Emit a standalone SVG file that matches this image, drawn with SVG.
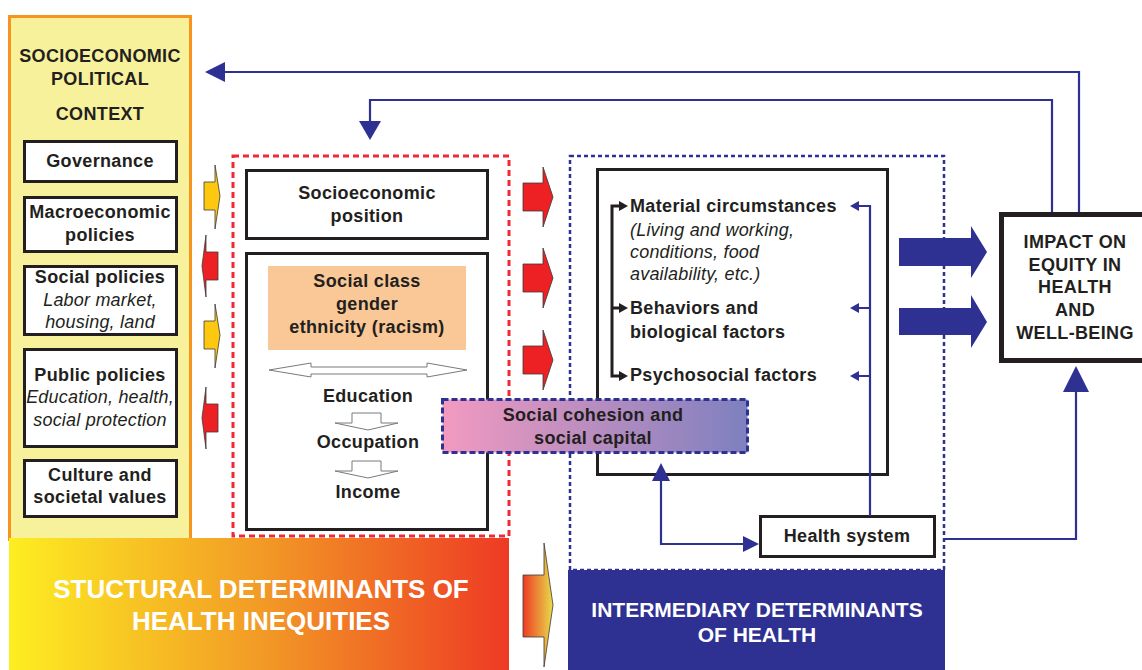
<svg xmlns="http://www.w3.org/2000/svg" width="1142" height="670" viewBox="0 0 1142 670">
  <style>
    .t { font-family: "Liberation Sans", Arial, Helvetica, sans-serif; font-size: 18px; font-weight: bold; fill: #231F20; letter-spacing: 0.35px; text-anchor: middle; }
    .ti { font-family: "Liberation Sans", Arial, Helvetica, sans-serif; font-size: 18px; font-style: italic; fill: #231F20; letter-spacing: 0.2px; text-anchor: middle; }
    .tl { text-anchor: start; }
    .w { fill: #FFFFFF; }
    .box { fill: #FFFFFF; stroke: #231F20; stroke-width: 3; }
    .yarrow { fill: #FDC80F; stroke: #3A3A3A; stroke-width: 0.8; }
    .rarrow { fill: #ED2024; stroke: #3A3A3A; stroke-width: 0.8; }
    .narrow { fill: #2E3192; }
    .nline { fill: none; stroke: #2E3192; stroke-width: 2.2; }
    .outline { fill: #FFFFFF; stroke: #7A7A7A; stroke-width: 1; }
  </style>
  <defs>
    <linearGradient id="gStruct" x1="0" y1="0" x2="1" y2="0">
      <stop offset="0" stop-color="#FDEE21"/>
      <stop offset="0.5" stop-color="#F29B26"/>
      <stop offset="1" stop-color="#EE3A24"/>
    </linearGradient>
    <linearGradient id="gCohesion" x1="0" y1="0" x2="1" y2="0">
      <stop offset="0" stop-color="#F29AC0"/>
      <stop offset="1" stop-color="#7E80BF"/>
    </linearGradient>
    <linearGradient id="gFlow" x1="0" y1="0" x2="1" y2="0">
      <stop offset="0" stop-color="#EE3B24"/>
      <stop offset="1" stop-color="#E8DC4A"/>
    </linearGradient>
  </defs>

  <!-- Socioeconomic and political context column -->
  <g id="context">
    <rect x="9.5" y="16.5" width="181" height="523" fill="#F8F19C" stroke="#F7941D" stroke-width="3"/>
    <text class="t" x="100" y="62">SOCIOECONOMIC</text>
    <text class="t" x="100" y="85">POLITICAL</text>
    <text class="t" x="100" y="120">CONTEXT</text>
  </g>
  <g id="governance">
    <rect class="box" x="24.5" y="141.5" width="152" height="40"/>
    <text class="t" x="100" y="167">Governance</text>
  </g>
  <g id="macroeconomic">
    <rect class="box" x="24.5" y="197.5" width="152" height="54"/>
    <text class="t" x="100" y="218">Macroeconomic</text>
    <text class="t" x="100" y="241">policies</text>
  </g>
  <g id="social-policies">
    <rect class="box" x="24.5" y="266.5" width="152" height="68"/>
    <text class="t" x="100" y="283">Social policies</text>
    <text class="ti" x="100" y="306">Labor market,</text>
    <text class="ti" x="100" y="328">housing, land</text>
  </g>
  <g id="public-policies">
    <rect class="box" x="24.5" y="349.5" width="152" height="97"/>
    <text class="t" x="100" y="381">Public policies</text>
    <text class="ti" x="100" y="403">Education, health,</text>
    <text class="ti" x="100" y="426">social protection</text>
  </g>
  <g id="culture">
    <rect class="box" x="24.5" y="460.5" width="152" height="56"/>
    <text class="t" x="100" y="481">Culture and</text>
    <text class="t" x="100" y="503">societal values</text>
  </g>

  <!-- Structural determinants band -->
  <g id="structural">
    <rect x="9" y="538" width="500" height="132" fill="url(#gStruct)"/>
    <text class="t w" x="261" y="598" style="font-size:26px;letter-spacing:0">STUCTURAL DETERMINANTS OF</text>
    <text class="t w" x="261" y="630" style="font-size:26px;letter-spacing:0">HEALTH INEQUITIES</text>
  </g>

  <!-- Socioeconomic position block -->
  <g id="position-frame">
    <rect x="233" y="156" width="276" height="380" fill="none" stroke="#EE2A35" stroke-width="3" stroke-dasharray="6 4"/>
  </g>
  <g id="socioeconomic-position">
    <rect class="box" x="246.5" y="170.5" width="241" height="68"/>
    <text class="t" x="367" y="199">Socioeconomic</text>
    <text class="t" x="367" y="222">position</text>
  </g>
  <g id="stratifiers">
    <rect class="box" x="246.5" y="253.5" width="241" height="276"/>
    <rect x="268" y="266" width="198" height="84" fill="#F9C896"/>
    <text class="t" x="367" y="287">Social class</text>
    <text class="t" x="367" y="310">gender</text>
    <text class="t" x="367" y="333">ethnicity (racism)</text>
    <polygon class="outline" points="269,370 311,363 311,367 427,367 427,363 467,370 427,377 427,374 311,374 311,377"/>
    <text class="t" x="368" y="402">Education</text>
    <polygon class="outline" points="352,413 381,413 381,423 398,423 368,430 335,423 352,423"/>
    <text class="t" x="368" y="448">Occupation</text>
    <polygon class="outline" points="352,461 381,461 381,471 398,471 368,478 335,471 352,471"/>
    <text class="t" x="368" y="498">Income</text>
  </g>

  <!-- Intermediary determinants block -->
  <g id="intermediary-frame">
    <rect x="570" y="156" width="374" height="414" fill="none" stroke="#2E3192" stroke-width="2.5" stroke-dasharray="4 3"/>
  </g>
  <g id="intermediary">
    <rect x="568" y="570" width="377" height="100" fill="#2E3192"/>
    <text class="t w" x="757" y="617" style="font-size:21px;letter-spacing:0">INTERMEDIARY DETERMINANTS</text>
    <text class="t w" x="757" y="642" style="font-size:21px;letter-spacing:0">OF HEALTH</text>
  </g>
  <g id="circumstances">
    <rect class="box" x="597.5" y="169.5" width="290" height="305"/>
    <text class="t tl" x="630" y="212">Material circumstances</text>
    <text class="ti tl" x="630" y="236">(Living and working,</text>
    <text class="ti tl" x="630" y="258">conditions, food</text>
    <text class="ti tl" x="630" y="280">availability, etc.)</text>
    <text class="t tl" x="630" y="314">Behaviors and</text>
    <text class="t tl" x="630" y="338">biological factors</text>
    <text class="t tl" x="630" y="381">Psychosocial factors</text>
    <path d="M620,206 H612 V376 H620 M612,308 H620" fill="none" stroke="#231F20" stroke-width="3"/>
    <polygon points="619,201 628,206 619,211" fill="#231F20"/>
    <polygon points="619,303 628,308 619,313" fill="#231F20"/>
    <polygon points="619,371 628,376 619,381" fill="#231F20"/>
  </g>
  <g id="social-cohesion">
    <rect x="442.5" y="399.5" width="305" height="53" fill="url(#gCohesion)" stroke="#2E3192" stroke-width="3" stroke-dasharray="6 3"/>
    <text class="t" x="593" y="421">Social cohesion and</text>
    <text class="t" x="593" y="444">social capital</text>
  </g>
  <g id="health-system">
    <rect class="box" x="760.5" y="516.5" width="174" height="40"/>
    <text class="t" x="847" y="542">Health system</text>
  </g>

  <!-- Outcome -->
  <g id="impact">
    <rect x="1001.5" y="214.5" width="160" height="146" fill="#FFFFFF" stroke="#231F20" stroke-width="5"/>
    <text class="t" x="1075" y="248">IMPACT ON</text>
    <text class="t" x="1075" y="271">EQUITY IN</text>
    <text class="t" x="1075" y="293">HEALTH</text>
    <text class="t" x="1075" y="316">AND</text>
    <text class="t" x="1075" y="339">WELL-BEING</text>
  </g>

  <!-- Connectors -->
  <g id="connectors">
    <!-- context <-> position -->
    <polygon class="yarrow" points="204,182 215,182 215,165 220,196 215,229 215,210 204,210"/>
    <polygon class="rarrow" points="218,252 206,252 206,235 202,266 206,297 206,280 218,280"/>
    <polygon class="yarrow" points="204,321 215,321 215,304 220,335 215,368 215,349 204,349"/>
    <polygon class="rarrow" points="218,404 206,404 206,387 202,418 206,449 206,432 218,432"/>

    <!-- position -> intermediary -->
    <polygon class="rarrow" points="523,183 543,183 543,167 553,197 543,227 543,211 523,211"/>
    <polygon class="rarrow" points="523,264 543,264 543,248 553,278 543,308 543,292 523,292"/>
    <polygon class="rarrow" points="523,346 543,346 543,330 553,360 543,390 543,374 523,374"/>
    <polygon points="523,575 544,575 544,543 553,605 544,667 544,637 523,637" fill="url(#gFlow)" stroke="#3A3A3A" stroke-width="0.8"/>

    <!-- intermediary -> impact -->
    <polygon class="narrow" points="899,238 971,238 971,226 987,252 971,278 971,266 899,266"/>
    <polygon class="narrow" points="899,308 971,308 971,295 987,322 971,348 971,335 899,335"/>

    <!-- feedback loops -->
    <path class="nline" d="M1079,212 V72 H224"/>
    <polygon class="narrow" points="205,72 225,62 225,82"/>
    <path class="nline" d="M1052,212 V100 H370 V122"/>
    <polygon class="narrow" points="359,121 381,121 370,140"/>

    <!-- health system links -->
    <path class="nline" d="M870,516 V206 H858 M870,308 H858 M870,376 H858"/>
    <polygon class="narrow" points="850,206 859,201 859,211"/>
    <polygon class="narrow" points="850,308 859,303 859,313"/>
    <polygon class="narrow" points="850,376 859,371 859,381"/>
    <path class="nline" d="M661,480 V544 H744" stroke-width="2.5"/>
    <polygon class="narrow" points="661,463 652,481 670,481"/>
    <polygon class="narrow" points="759,544 743,536 743,552"/>
    <path class="nline" d="M944,539 H1076 V390" stroke-width="4"/>
    <polygon class="narrow" points="1076,366 1063,392 1089,392"/>
  </g>
</svg>
